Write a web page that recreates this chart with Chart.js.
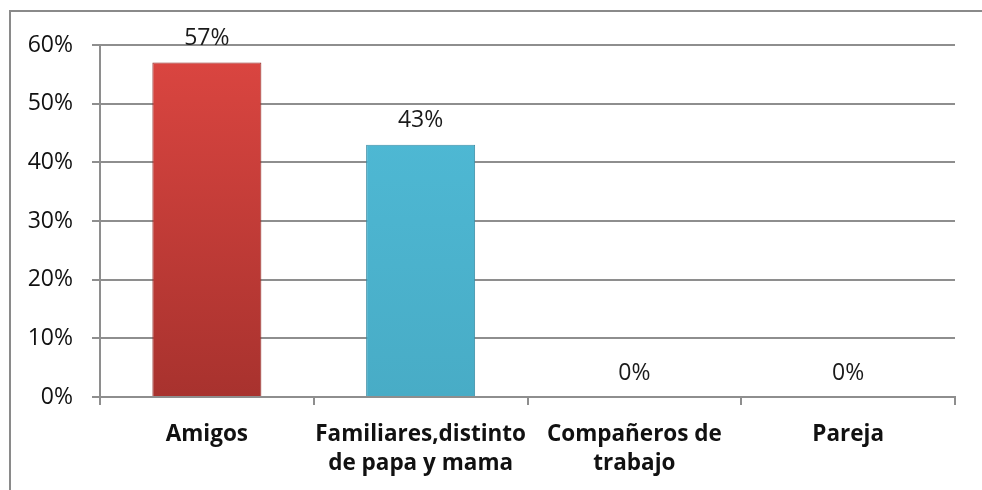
<!DOCTYPE html>
<html>
<head>
<meta charset="utf-8">
<script src="https://cdn.jsdelivr.net/npm/chart.js@4/dist/chart.umd.min.js"></script>
<style>
  body { margin: 0; background: #fff; overflow: hidden; }
  #wrap { position: relative; width: 982px; height: 490px; }
  #frame { position: absolute; left: 9px; top: 10px; width: 1000px; height: 600px; border: 2px solid #8a8a8a; box-sizing: border-box; }
  canvas { position: absolute; left: 0; top: 0; }
</style>
</head>
<body>
<div id="wrap">
  <div id="frame"></div>
  <canvas id="myChart" width="982" height="490"></canvas>
</div>
<script>
// data
const categories = ['Amigos', ['Familiares,distinto', 'de papa y mama'], ['Compañeros de', 'trabajo'], 'Pareja'];
const percentValues = [57, 43, 0, 0];
const yTicks = [0, 10, 20, 30, 40, 50, 60];

const barTop = ['#dc4641', '#50bcd8', '#dc4641', '#50bcd8'];
const barBottom = ['#a8322e', '#48acc6', '#a8322e', '#48acc6'];
const barEdge = ['#8e2a26', '#3b8ea6', '#8e2a26', '#3b8ea6'];

function barFill(ctx) {
  const chart = ctx.chart;
  const area = chart.chartArea;
  if (!area) return barTop[ctx.dataIndex];
  const g = chart.ctx.createLinearGradient(0, area.top, 0, area.bottom);
  g.addColorStop(0, barTop[ctx.dataIndex]);
  g.addColorStop(1, barBottom[ctx.dataIndex]);
  return g;
}

// draws the "57%" etc above each bar
const valueLabels = {
  id: 'valueLabels',
  afterDatasetsDraw(chart) {
    const c = chart.ctx;
    const meta = chart.getDatasetMeta(0);
    c.save();
    c.font = '23px "Open Sans"';
    c.fillStyle = '#1a1a1a';
    c.textAlign = 'center';
    c.textBaseline = 'middle';
    meta.data.forEach((bar, i) => {
      c.fillText(percentValues[i] + '%', bar.x, bar.y - 24);
    });
    c.restore();
  }
};

document.addEventListener('DOMContentLoaded', () => {
  const ctx = document.getElementById('myChart').getContext('2d');
  new Chart(ctx, {
    type: 'bar',
    data: {
      labels: categories,
      datasets: [{
        data: percentValues,
        backgroundColor: barFill,
        borderColor: barEdge,
        borderWidth: 1,
        borderSkipped: 'bottom',
        categoryPercentage: 0.51,
        barPercentage: 1
      }]
    },
    options: {
      responsive: false,
      animation: false,
      layout: { padding: { top: 45, right: 27, left: 0, bottom: 0 } },
      plugins: { legend: { display: false }, tooltip: { enabled: false } },
      scales: {
        x: {
          offset: true,
          grid: { offset: true, drawOnChartArea: false, drawTicks: true, tickLength: 8, color: '#8e8e8e', lineWidth: 2 },
          border: { color: '#8e8e8e', width: 2 },
          ticks: { color: '#111', font: { family: 'Open Sans', size: 22.5, weight: 'bold', lineHeight: 1.3 }, padding: 15, maxRotation: 0, autoSkip: false },
          afterFit(scale) { scale.height = 93; }
        },
        y: {
          min: 0,
          max: 60,
          afterBuildTicks(scale) { scale.ticks = yTicks.map(v => ({ value: v })); },
          grid: { color: '#8e8e8e', lineWidth: 2, tickLength: 8 },
          border: { color: '#8e8e8e', width: 2 },
          ticks: { color: '#111', font: { family: 'Open Sans', size: 23 }, padding: 19, callback: v => v + '%' },
          afterFit(scale) { scale.width = 100; }
        }
      }
    },
    plugins: [valueLabels]
  });
});
</script>
</body>
</html>
